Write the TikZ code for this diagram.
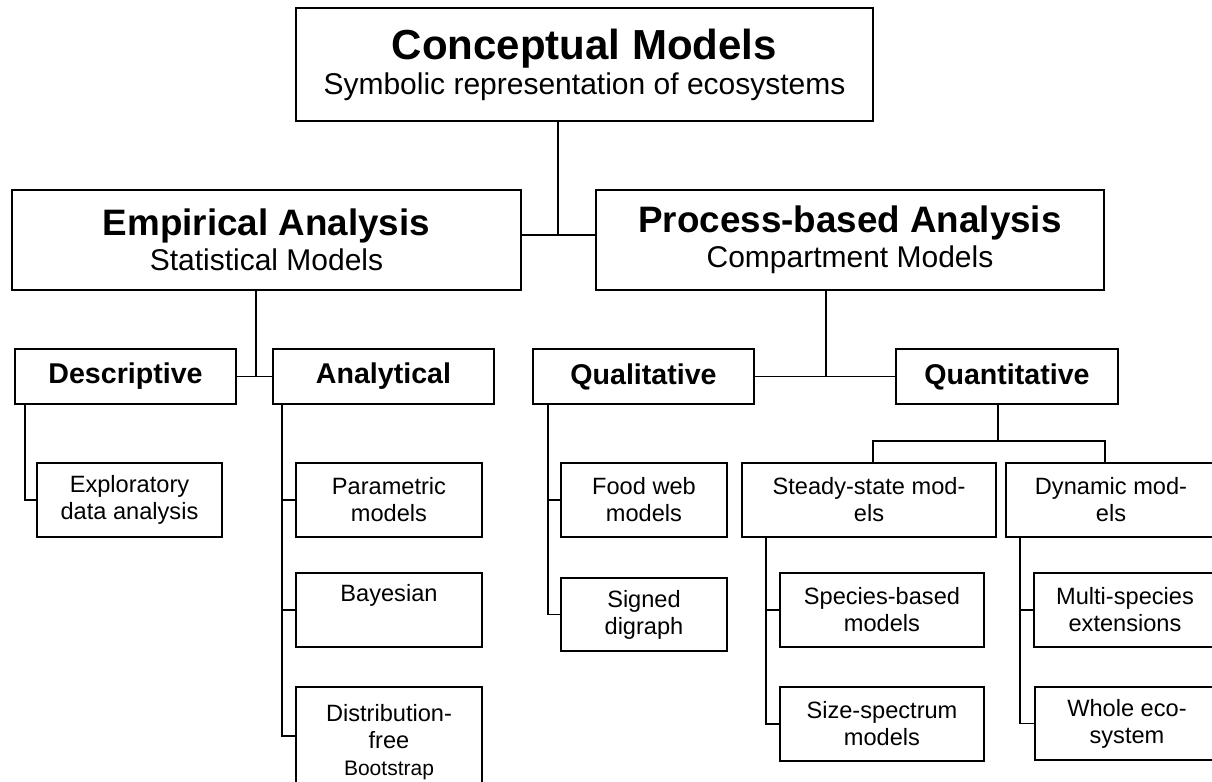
\documentclass[tikz,border=0pt]{standalone}
\usepackage{fontspec}
\setmainfont{Liberation Sans}
\newcommand{\toptitle}{\fontsize{21}{24}\selectfont\bfseries}
\newcommand{\sectitle}{\fontsize{18.4}{21}\selectfont\bfseries}
\newcommand{\subline}{\fontsize{15}{17.5}\selectfont}
\newcommand{\kindtitle}{\fontsize{14.3}{17}\selectfont\bfseries}
\newcommand{\leaftext}{\fontsize{11.8}{13.5}\selectfont}
\begin{document}
\begin{tikzpicture}[x=0.5pt,y=-0.5pt]
		\tikzset{box/.style = {shape=rectangle, draw, line width=0.7pt, inner sep=0pt, outer sep=0pt, align=center}}
		\tikzset{head/.style = {box, minimum height=50pt, font=\subline}}
		\tikzset{kind/.style = {box, minimum height=27.5pt, font=\kindtitle}}
		\tikzset{leaf/.style = {box, minimum height=37pt, font=\leaftext}}
		\tikzset{edge/.style = {line width=0.6pt}}

		\fill[white] (0,0) rectangle (1212,782);
		\useasboundingbox (0,0) rectangle (1212,782);

		\node[box, font=\subline, minimum width=288.5pt, minimum height=56.5pt] (C) at (584.5,64.5) {{\toptitle Conceptual Models}\\Symbolic representation of ecosystems};
		\node[head, minimum width=254.5pt] (E) at (266.5,240) {{\sectitle Empirical Analysis}\\Statistical Models};
		\node[head, minimum width=254pt] (P) at (850,240) {{\sectitle Process-based Analysis}\\Compartment Models};

		\node[kind, minimum width=110.5pt] (E_1) at (125.5,376.5) {Descriptive};
		\node[kind, minimum width=110.5pt] (E_2) at (383.5,376.5) {Analytical};
		\node[kind, minimum width=110.5pt] (P_1) at (643.5,376.5) {Qualitative};
		\node[kind, minimum width=111pt] (P_2) at (1007,376.5) {Quantitative};

		\node[leaf, minimum width=92.5pt] (E_1_1) at (129.5,500) {Exploratory\\data analysis};
		\node[leaf, minimum width=93pt] (E_2_1) at (389,500) {Parametric\\models};
		\node[leaf, minimum width=93pt] (E_2_2) at (389,610) {Bayesian\\\strut};
		\node[leaf, minimum width=93pt, minimum height=55pt] (E_2_3) at (389,742) {Distribution-\\free\\{\fontsize{10.5}{12}\selectfont Bootstrap}};
		\node[leaf, minimum width=83pt] (P_1_1) at (644,500) {Food web\\models};
		\node[leaf, minimum width=83pt, minimum height=36.5pt] (P_1_2) at (644,614.5) {Signed\\digraph};
		\node[leaf, minimum width=127pt] (P_2_1) at (869,500) {Steady-state mod-\\els};
		\node[leaf, minimum width=105pt] (P_2_2) at (1111,500) {Dynamic mod-\\els};
		\node[leaf, minimum width=102pt] (P_2_1_1) at (882,610) {Species-based\\models};
		\node[leaf, minimum width=102pt] (P_2_1_2) at (882,724) {Size-spectrum\\models};
		\node[leaf, minimum width=91pt] (P_2_2_1) at (1125,610) {Multi-species\\extensions};
		\node[leaf, minimum width=92pt, minimum height=36.5pt] (P_2_2_2) at (1127,723.5) {Whole eco-\\system};

		\coordinate (J) at (558,235);
		\coordinate (J_E) at (256,377);
		\coordinate (J_P) at (826,377);
		\coordinate (J_Q) at (998,441);

		\draw[edge] (C.south -| J) to (J);
		\draw[edge] (E.east |- J) to (P.west |- J);
		\draw[edge] (E.south -| J_E) to (J_E);
		\draw[edge] (E_1) to (E_2);
		\draw[edge] (P.south -| J_P) to (J_P);
		\draw[edge] (P_1) to (P_2);

		\draw[edge] ([xshift=5pt]E_1.south west) |- (E_1_1);
		\draw[edge] ([xshift=4.5pt]E_2.south west) |- (E_2_1);
		\draw[edge] ([xshift=4.5pt]E_2.south west) |- (E_2_2);
		\draw[edge] ([xshift=4.5pt]E_2.south west) |- ([yshift=3pt]E_2_3.west);
		\draw[edge] ([xshift=7.5pt]P_1.south west) |- (P_1_1);
		\draw[edge] ([xshift=7.5pt]P_1.south west) |- (P_1_2);

		\draw[edge] (P_2.south -| J_Q) to (J_Q);
		\draw[edge] ([xshift=2pt]P_2_1.north) |- (J_Q) -| ([xshift=-3pt]P_2_2.north);
		\draw[edge] ([xshift=12pt]P_2_1.south west) |- (P_2_1_1);
		\draw[edge] ([xshift=12pt]P_2_1.south west) |- (P_2_1_2);
		\draw[edge] ([xshift=7pt]P_2_2.south west) |- (P_2_2_1);
		\draw[edge] ([xshift=7pt]P_2_2.south west) |- (P_2_2_2);

	\end{tikzpicture}
\end{document}
